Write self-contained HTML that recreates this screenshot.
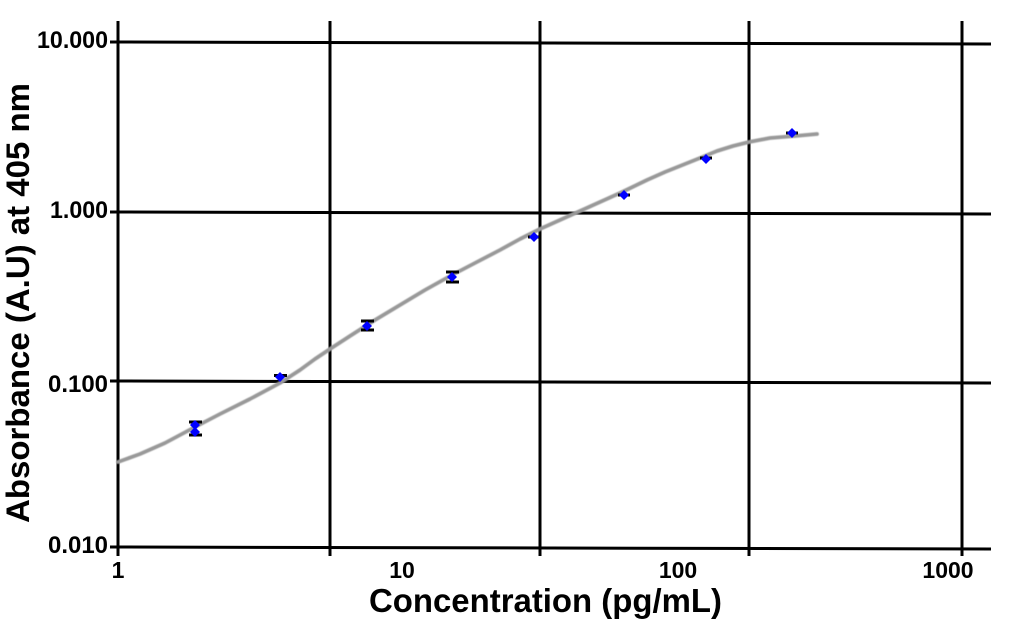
<!DOCTYPE html>
<html>
<head>
<meta charset="utf-8">
<style>
  html, body { margin: 0; padding: 0; background: #fff; }
  body { width: 1016px; height: 623px; overflow: hidden; }
  svg { display: block; }
  text { font-family: "Liberation Sans", Arial, sans-serif; font-weight: bold; fill: #000; }
</style>
</head>
<body>
<svg width="1016" height="623" viewBox="0 0 1016 623" xmlns="http://www.w3.org/2000/svg">
  <defs>
    <filter id="blur" x="-5%" y="-20%" width="110%" height="140%">
      <feGaussianBlur stdDeviation="0.6"/>
    </filter>
  </defs>
  <rect width="1016" height="623" fill="#fff"/>

  <!-- horizontal grid lines -->
  <g stroke="#000" stroke-width="3" fill="none">
    <line x1="110" y1="42" x2="991" y2="44"/>
    <line x1="110" y1="212" x2="991" y2="214"/>
    <line x1="110" y1="381" x2="991" y2="383"/>
    <line x1="110" y1="547" x2="991" y2="549"/>
  </g>

  <!-- vertical grid lines -->
  <g stroke="#000" stroke-width="3" fill="none">
    <line x1="118" y1="21" x2="118" y2="556"/>
    <line x1="330" y1="21" x2="330" y2="556"/>
    <line x1="540" y1="21" x2="540" y2="556"/>
    <line x1="749" y1="21" x2="749" y2="556"/>
    <line x1="962" y1="21" x2="962" y2="556"/>
  </g>

  <!-- fitted curve -->
  <polyline points="118,462 140,454 165,443 195,427 220,414 250,399 280,383 300,370 315,359 330,349 350,336 375,320 400,305 425,290 452,275 475,263 500,250 520,239 540,229 560,220 580,211 600,202 620,193 647,180 665,172 680,166 700,158 717,151 733,146 749,142 770,138 795,136 817,134"
        fill="none" stroke="#999" stroke-width="3.8" stroke-linecap="round" stroke-linejoin="round" filter="url(#blur)"/>

  <!-- error bars -->
  <g stroke="#000" stroke-width="3" fill="none">
    <line x1="195" y1="422" x2="195" y2="435"/>
    <line x1="189" y1="422" x2="202" y2="422"/>
    <line x1="189" y1="435" x2="202" y2="435"/>

    <line x1="274" y1="375.5" x2="287" y2="375.5"/>

    <line x1="367" y1="321" x2="367" y2="330"/>
    <line x1="361" y1="321" x2="374" y2="321"/>
    <line x1="361" y1="330" x2="374" y2="330"/>

    <line x1="452" y1="272" x2="452" y2="282"/>
    <line x1="446" y1="272" x2="459" y2="272"/>
    <line x1="446" y1="282" x2="459" y2="282"/>

    <line x1="528" y1="237" x2="540" y2="237"/>
    <line x1="618" y1="195" x2="630" y2="195"/>
    <line x1="700" y1="158" x2="712" y2="158"/>
    <line x1="786" y1="133" x2="798" y2="133"/>
  </g>

  <!-- data points (blue diamonds) -->
  <g fill="#0000ff">
    <polygon points="195,420 200,425 195,430 190,425"/>
    <polygon points="195,427 200,432 195,437 190,432"/>
    <polygon points="280,372 285,377 280,382 275,377"/>
    <polygon points="367,321 372,326 367,331 362,326"/>
    <polygon points="452,272 457,277 452,282 447,277"/>
    <polygon points="534,232 539,237 534,242 529,237"/>
    <polygon points="624,190 629,195 624,200 619,195"/>
    <polygon points="706,154 711,159 706,164 701,159"/>
    <polygon points="792,128 797,133 792,138 787,133"/>
  </g>

  <!-- y tick labels -->
  <g font-size="24" text-anchor="end">
    <text x="108" y="48" textLength="71" lengthAdjust="spacingAndGlyphs">10.000</text>
    <text x="108" y="218" textLength="58" lengthAdjust="spacingAndGlyphs">1.000</text>
    <text x="108" y="392" textLength="60" lengthAdjust="spacingAndGlyphs">0.100</text>
    <text x="108" y="553" textLength="60" lengthAdjust="spacingAndGlyphs">0.010</text>
  </g>

  <!-- x tick labels -->
  <g font-size="23" text-anchor="middle">
    <text x="118" y="578">1</text>
    <text x="402" y="578">10</text>
    <text x="678" y="578">100</text>
    <text x="948" y="578">1000</text>
  </g>

  <!-- axis titles -->
  <text x="369" y="612" font-size="33" textLength="353" lengthAdjust="spacingAndGlyphs">Concentration (pg/mL)</text>
  <text transform="translate(29,523) rotate(-90)" x="0" y="0" font-size="32" textLength="440" lengthAdjust="spacingAndGlyphs">Absorbance (A.U) at 405 nm</text>
</svg>
</body>
</html>
